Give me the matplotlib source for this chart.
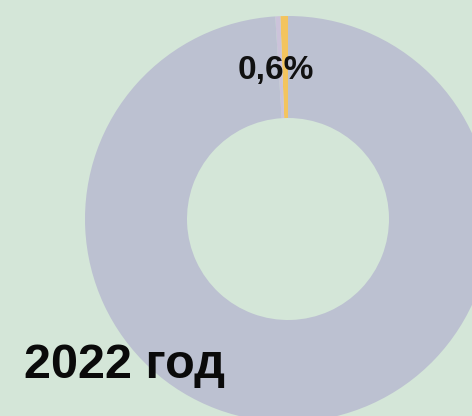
import matplotlib
matplotlib.use("Agg")
from matplotlib import pyplot as plt

# shares of the ring, counter-clockwise from the top
categories = ["Прочее", "Доля", "Прочее 2"]
shares = [0.6, 0.4, 99.0]
slice_colors = ["#f3c45e", "#cbc3da", "#bcc1d1"]
shown_label = "0,6%"
year_title = "2022 год"

bg = "#d4e6d8"

fig = plt.figure(figsize=(4.72, 4.16), dpi=100)
fig.patch.set_facecolor(bg)
ax = fig.add_axes([0, 0, 1, 1])
ax.set_facecolor(bg)
ax.set_xlim(0, 472)
ax.set_ylim(0, 416)
ax.set_aspect("equal")
ax.axis("off")

ax.pie(shares, colors=slice_colors, startangle=90, counterclock=True,
       center=(288, 197), radius=203,
       wedgeprops=dict(width=102, linewidth=0), frame=True)
ax.set_xlim(0, 472)
ax.set_ylim(0, 416)
ax.axis("off")

ax.text(276, 346, shown_label, ha="center", va="center", fontsize=24,
        fontweight="bold", family=["Liberation Sans", "DejaVu Sans"], color="#111111")
ax.text(24, 51, year_title, ha="left", va="center", fontsize=35,
        fontweight="bold", family=["Liberation Sans", "DejaVu Sans"], color="#0a0a0a")

fig.savefig("out.png", dpi=100, facecolor=bg)
